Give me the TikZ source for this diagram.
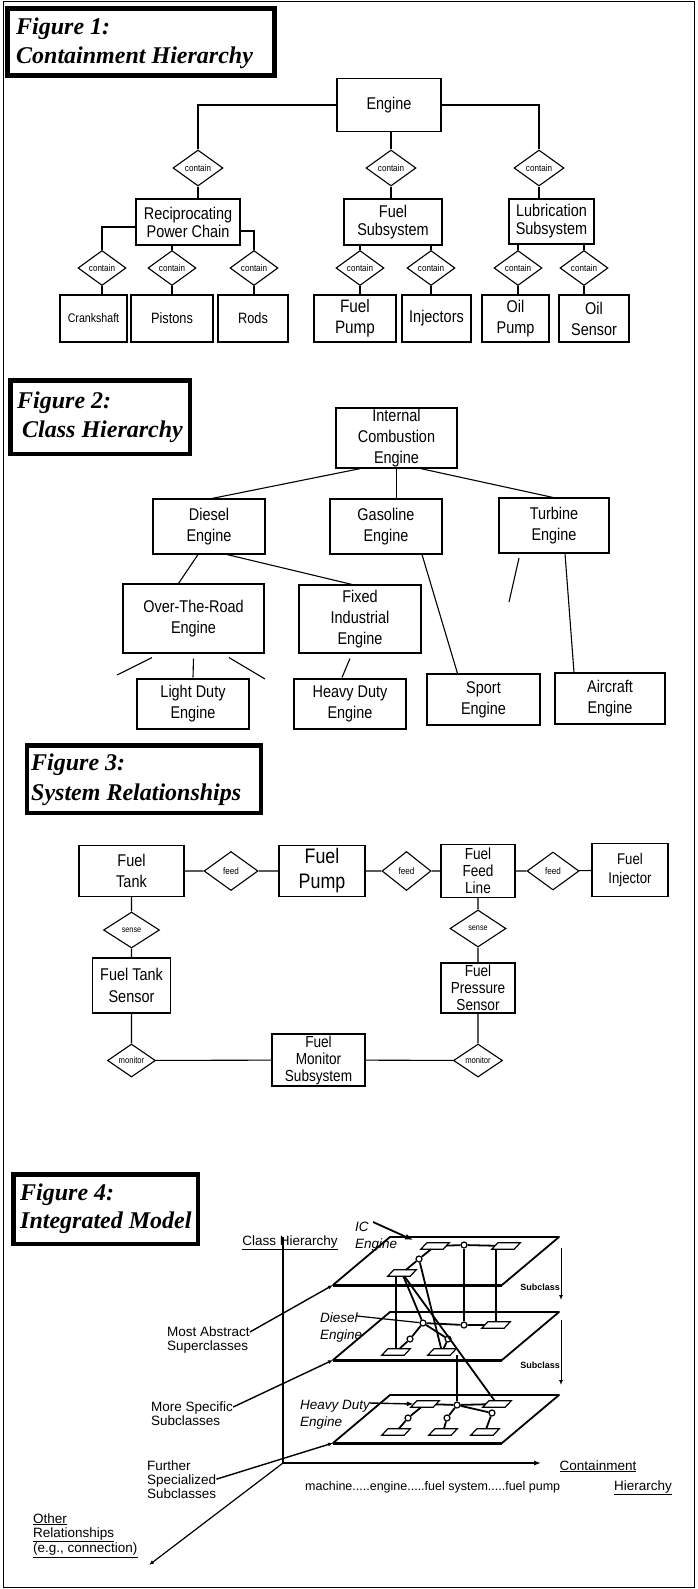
\documentclass[tikz,border=0pt]{standalone}
\usepackage{fontspec}
\setmainfont{Liberation Sans}[FakeStretch=0.85]
\newfontfamily\plainsans{Liberation Sans}
\newfontfamily\titlefont{Liberation Serif}
\usetikzlibrary{shapes.geometric}
\usetikzlibrary{arrows.meta}
\usetikzlibrary{calc}

\newcommand{\fsz}[2]{\fontsize{#1}{#2}\selectfont}

\begin{document}
\begin{tikzpicture}[x=1pt, y=-1pt, >=Latex,
    box/.style={draw, line width=1.1pt, align=center, inner sep=0pt},
    rel/.style={draw, diamond, line width=1.1pt, inner sep=0pt, minimum width=50pt, minimum height=36pt, font=\fsz{9.5}{10}},
    wire/.style={line width=1.1pt},
    figbox/.style={draw, line width=4.5pt, inner sep=0pt},
    figtext/.style={anchor=base west, inner sep=0pt, font=\titlefont\bfseries\itshape\fsz{24}{28}},
    lbl/.style={inner sep=0pt, align=left, font=\plainsans\fsz{13.5}{14}},
    plane/.style={line width=1.8pt, line join=round},
    link/.style={line width=1.8pt},
    subbox/.style={inner sep=0pt, minimum width=22pt, minimum height=6pt},
    joint/.style={draw, circle, line width=1.2pt, minimum size=6pt, inner sep=0pt},
]

\useasboundingbox (0,0) rectangle (697,1589);
\draw[line width=1pt] (3,2) rectangle (694,1587);

% Figure 1
\node[figbox, minimum width=267pt, minimum height=67pt] (fig1) at (141,42) {};
\node[figtext] (fig1a) at (16,35) {Figure 1:};
\node[figtext] (fig1b) at (16,64) {Containment Hierarchy};

\node[box, minimum width=104pt, minimum height=53pt, font=\fsz{17}{18}] (engine) at (389,105) {Engine};
\node[rel] (ct1) at (198,168) {contain};
\node[rel] (ct2) at (391,168) {contain};
\node[rel] (ct3) at (539,168) {contain};

\node[box, minimum width=104pt, minimum height=46pt, font=\fsz{17}{18}] (recip) at (188,222) {Reciprocating\\Power Chain};
\node[box, minimum width=98pt, minimum height=46pt, font=\fsz{17}{18}] (fuelsub) at (393,222) {Fuel\\Subsystem};
\node[box, minimum width=85pt, minimum height=45pt, font=\fsz{17}{18}] (lubsub) at (551.5,221.5) {Lubrication\\Subsystem};

\foreach \n/\x in {ct4/102, ct5/172, ct6/254, ct7/360, ct8/431, ct9/518, ct10/584}
  \node[rel, minimum width=48pt, minimum height=35pt] (\n) at (\x,268) {contain};

\node[box, minimum width=67pt, minimum height=47pt, font=\fsz{12.5}{14}] (crank) at (93.5,318.5) {Crankshaft};
\node[box, minimum width=82pt, minimum height=47pt, font=\fsz{15}{18}] (pistons) at (172,318.5) {Pistons};
\node[box, minimum width=70pt, minimum height=47pt, font=\fsz{15}{18}] (rods) at (253,318.5) {Rods};
\node[box, minimum width=82pt, minimum height=47pt, font=\fsz{18}{21}] (fpump) at (355,318.5) {Fuel\\Pump};
\node[box, minimum width=69pt, minimum height=47pt, font=\fsz{17}{21}] (injectors) at (436.5,318.5) {Injectors};
\node[box, minimum width=67pt, minimum height=47pt, font=\fsz{17}{21}] (opump) at (515.5,318.5) {Oil\\Pump};
\node[box, minimum width=70pt, minimum height=47pt, font=\fsz{17}{21}] (osensor) at (594,318.5) {Oil\\Sensor};

\draw[wire] (engine.west) -| (ct1.north);
\draw[wire] (engine.east) -| (ct3.north);
\draw[wire] (ct2.north) -- (ct2.north |- engine.south);
\draw[wire] (ct1.south) -- (ct1.south |- recip.north);
\draw[wire] (ct2.south) -- (ct2.south |- fuelsub.north);
\draw[wire] (ct3.south) -- (ct3.south |- lubsub.north);
\draw[wire] ($(recip.west)+(0,5)$) -| (ct4.north);
\draw[wire] ($(recip.east)+(0,9)$) -| (ct6.north);
\draw[wire] (ct5.north) -- (ct5.north |- recip.south);
\draw[wire] (ct7.north) -- (ct7.north |- fuelsub.south);
\draw[wire] (ct8.north) -- (ct8.north |- fuelsub.south);
\draw[wire] (ct9.north) -- (ct9.north |- lubsub.south);
\draw[wire] (ct10.north) -- (ct10.north |- lubsub.south);
\foreach \d/\b in {ct4/crank, ct5/pistons, ct6/rods, ct7/fpump, ct8/injectors, ct9/opump, ct10/osensor}
  \draw[wire] (\d.south) -- (\d.south |- \b.north);

% Figure 2
\node[figbox, minimum width=179.5pt, minimum height=73.5pt] (fig2) at (100,417) {};
\node[figtext] (fig2a) at (17,408) {Figure 2:};
\node[figtext] (fig2b) at (22,437) {Class Hierarchy};

\begin{scope}[every node/.append style={font=\fsz{17}{21}}]
\node[box, minimum width=121pt, minimum height=60pt] (ice) at (396.5,438) {Internal\\Combustion\\Engine};
\node[box, minimum width=112pt, minimum height=55pt] (diesel) at (209,526.5) {Diesel\\Engine};
\node[box, minimum width=112pt, minimum height=55pt] (gasoline) at (386,526.5) {Gasoline\\Engine};
\node[box, minimum width=110pt, minimum height=55pt] (turbine) at (554,525.5) {Turbine\\Engine};
\node[box, minimum width=141pt, minimum height=69pt] (otr) at (193.5,618.5) {Over-The-Road\\Engine};
\node[box, minimum width=122pt, minimum height=68pt] (fixed) at (360,619) {Fixed\\Industrial\\Engine};
\node[box, minimum width=112pt, minimum height=50pt] (light) at (193,704) {Light Duty\\Engine};
\node[box, minimum width=112pt, minimum height=50pt] (heavy) at (350,704) {Heavy Duty\\Engine};
\node[box, minimum width=113pt, minimum height=51pt] (sport) at (483.5,699.5) {Sport\\Engine};
\node[box, minimum width=110pt, minimum height=51pt] (aircraft) at (610,698.5) {Aircraft\\Engine};
\end{scope}

\coordinate (loose1) at (519,558);
\coordinate (loose2) at (509,602);
\coordinate (loose3) at (117,675);
\coordinate (loose4) at (265,679);

\draw[wire] ($(ice.south)+(-36,0)$) -- ($(diesel.north)+(3,0)$);
\draw[wire] (ice.south) -- (ice.south |- gasoline.north);
\draw[wire] ($(ice.south)+(24,0)$) -- ($(turbine.north)+(-1,0)$);
\draw[wire] ($(diesel.south)+(-11,0)$) -- ($(otr.north)+(-15,0)$);
\draw[wire] ($(diesel.south)+(18,0)$) -- ($(fixed.north)+(-8,0)$);
\draw[wire] ($(gasoline.south)+(36,0)$) -- ($(sport.north)+(-26,0)$);
\draw[wire] ($(turbine.south)+(11,0)$) -- ($(aircraft.north)+(-36,0)$);
\draw[wire] (loose1) -- (loose2);
\draw[wire] ($(otr.south)+(-41.5,4)$) -- (loose3);
\draw[wire] ($(otr.south)+(0,5)$) -- ($(light.north)+(0,-1)$);
\draw[wire] ($(otr.south)+(35.5,4)$) -- (loose4);
\draw[wire] ($(fixed.south)+(-10,5)$) -- ($(heavy.north)+(-8,-1)$);

% Figure 3
\node[figbox, minimum width=234pt, minimum height=67.5pt] (fig3) at (143.75,779) {};
\node[figtext] (fig3a) at (31,770) {Figure 3:};
\node[figtext] (fig3b) at (31,800) {System Relationships};

\node[box, minimum width=105pt, minimum height=51pt, font=\fsz{17}{21.5}] (tank) at (131.5,871) {Fuel\\Tank};
\node[rel, minimum width=54pt, minimum height=39pt] (fd1) at (231,871) {feed};
\node[box, minimum width=86pt, minimum height=51pt, font=\fsz{21}{25}] (pump) at (322,871) {Fuel\\Pump};
\node[rel, minimum width=49pt, minimum height=39pt] (fd2) at (406.5,871) {feed};
\node[box, minimum width=74pt, minimum height=53pt, font=\fsz{16}{17}] (feedline) at (478,871) {Fuel\\Feed\\Line};
\node[rel, minimum width=52pt, minimum height=38pt] (fd3) at (553,871) {feed};
\node[box, minimum width=76pt, minimum height=53pt, font=\fsz{15.5}{19}] (injector) at (630,870) {Fuel\\Injector};

\node[rel, minimum width=56pt, minimum height=36pt, font=\fsz{8.5}{9}] (sn1) at (131.5,930) {sense};
\node[box, minimum width=78pt, minimum height=55pt, font=\fsz{17}{22}] (tanksensor) at (131.5,985.5) {Fuel Tank\\Sensor};
\node[rel, minimum width=56pt, minimum height=37pt, font=\fsz{8.5}{9}] (sn2) at (478,928.5) {sense};
\node[box, minimum width=74pt, minimum height=50pt, font=\fsz{16}{17}] (pressure) at (478,988) {Fuel\\Pressure\\Sensor};

\node[rel, minimum width=48pt, minimum height=33pt, font=\fsz{9}{10}] (mn1) at (131.5,1060.5) {monitor};
\node[box, minimum width=93pt, minimum height=52pt, font=\fsz{16}{17}] (monitor) at (318.5,1060) {Fuel\\Monitor\\Subsystem};
\node[rel, minimum width=49pt, minimum height=33pt, font=\fsz{9}{10}] (mn2) at (478,1060.5) {monitor};

\draw[wire] (tank) -- (fd1) -- (pump) -- (fd2) -- (feedline) -- (fd3) -- (injector);
\draw[wire] (tank) -- (sn1) -- (tanksensor) -- (mn1) -- (monitor) -- (mn2) -- (pressure) -- (sn2) -- (feedline);

% Figure 4
\node[figbox, minimum width=184.5pt, minimum height=69.5pt] (fig4) at (105.5,1209) {};
\node[figtext] (fig4a) at (20,1200) {Figure 4:};
\node[figtext] (fig4b) at (20,1228) {Integrated Model};

\coordinate (ax0) at (283,1463);
\coordinate (axv) at (283,1237);
\coordinate (axh) at (541,1463);
\coordinate (axd) at (149,1565);
\draw[line width=1.2pt] (axv) -- (ax0);
\draw[line width=1.2pt, -{Latex[length=7pt,width=5pt]}] (ax0) -- (axh);
\draw[line width=1.2pt, -{Latex[length=5pt,width=4pt]}] (ax0) -- (axd);

\def\slant{57}
\foreach \n/\y in {1/1237, 2/1312, 3/1395} {
  \coordinate (p\n tl) at (390,\y);
  \coordinate (p\n tr) at (559,\y);
  \coordinate (p\n br) at (559-\slant,\y+48);
  \coordinate (p\n bl) at (390-\slant,\y+48);
  \draw[plane] (p\n bl) -- (p\n br) -- (p\n tr) -- (p\n tl) -- cycle;
  \draw[line width=3pt] (p\n bl) -- (p\n br);
  \draw[line width=2.6pt] (p\n tl) -- (p\n tr);
}

\foreach \n/\x/\y in {ta/435/1246, tb/506/1246, td/402/1273, mb/496/1325, ma/396/1352, me/442/1352, ba/425/1404, bb/497/1404, bd/396/1432, be/443/1432, bf/485/1432} {
  \node[subbox] (\n) at (\x,\y) {};
  \draw[line width=1.2pt] ($(\n.south west)+(-3,0)$) -- ($(\n.south east)+(-3,0)$)
    -- ($(\n.north east)+(3,0)$) -- ($(\n.north west)+(3,0)$) -- cycle;
}
\foreach \n/\x/\y in {tc1/464/1245, tc2/419/1259, mc1/464/1325, mc2/423/1323, mc3/410/1339, md/448/1339, bc1/457/1405, bc2/408/1418, bc3/447/1418, bc4/492/1413}
  \node[joint] (\n) at (\x,\y) {};

\draw[link] (ta) -- (tc1) -- (tb);
\draw[link] (tc2) -- (ta);
\draw[link] (tc2) -- (td);
\draw[link] (ma.north) -- (ma.north |- td.south);
\draw[link] (mc1) -- (tc1);
\draw[link] (mb.north) -- (mb.north |- tb.south);
\draw[link] (td) -- (mc2);
\draw[link] (tc2) -- (me);
\draw[link] (td) -- (bb);
\draw[link] (mc2) -- (mc1) -- (mb);
\draw[link] (mc2) -- (mc3) -- (ma);
\draw[link] (mc2) -- (md) -- (me);
\draw[link] (bc1.north) -- (bc1.north |- me.south);
\draw[link] (ba) -- (bc1) -- (bb);
\draw[link] (ba) -- (bc2) -- (bd);
\draw[link] (bc1) -- (bc3) -- (be);
\draw[link] (bc1) -- (bc4) -- (bf);

\node[lbl, anchor=base] (classh) at (290,1245) {\underline{Class Hierarchy}};
\node[lbl, anchor=base] (conth) at (598,1470) {\underline{Containment}};
\node[lbl, anchor=base] (hier) at (643,1490) {\underline{Hierarchy}};
\node[lbl, anchor=base west, font=\plainsans\fsz{12.5}{14}] (levels) at (305,1490) {machine.....engine.....fuel system.....fuel pump};

\node[lbl, anchor=north west, font=\plainsans\itshape\fsz{13.5}{17}] (iceng) at (355,1222) {IC\\Engine};
\node[lbl, anchor=north west, font=\plainsans\itshape\fsz{13.5}{17}] (dieng) at (320,1313) {Diesel\\Engine};
\node[lbl, anchor=north west, font=\plainsans\itshape\fsz{13.5}{17}] (hdeng) at (300,1400) {Heavy Duty\\Engine};

\draw[link, -{Latex[length=8pt,width=6pt]}] ($(iceng.north west)+(18,0)$) -- (413,1240);
\draw[line width=1.2pt] ($(dieng.north west)+(37,3)$) -- (mc2);
\draw[line width=1.4pt, -{Latex[length=7pt,width=5pt]}] ($(hdeng.north west)+(70,3)$) -- (ba.west);

\node[lbl, anchor=north west] (abstr) at (167,1327) {Most Abstract\\Superclasses};
\node[lbl, anchor=north west] (specif) at (151,1402) {More Specific\\Subclasses};
\node[lbl, anchor=north west] (further) at (147,1460) {Further\\Specialized\\Subclasses};
\node[lbl, anchor=north west] (otherrel) at (33,1513) {\underline{Other}\\\underline{Relationships}\\\underline{(e.g., connection)}};

\draw[line width=1.4pt, -{Latex[length=5pt,width=4pt]}] ($(abstr.north east)+(0,5)$) -- (p1bl);
\draw[line width=1.4pt, -{Latex[length=5pt,width=4pt]}] ($(specif.north east)+(0,5)$) -- (p2bl);
\draw[line width=1.4pt, -{Latex[length=5pt,width=4pt]}] ($(further.east)+(0,0)$) -- (p3bl);

\coordinate (sc1a) at (561,1248);
\coordinate (sc1b) at (561,1300);
\coordinate (sc2a) at (561,1320);
\coordinate (sc2b) at (561,1385);
\draw[line width=1pt, -{Latex[length=5pt,width=4pt]}] (sc1a) -- (sc1b);
\draw[line width=1pt, -{Latex[length=5pt,width=4pt]}] (sc2a) -- (sc2b);
\node[lbl, anchor=base east, font=\plainsans\bfseries\fsz{9}{10}] (sub1) at (560,1290) {Subclass};
\node[lbl, anchor=base east, font=\plainsans\bfseries\fsz{9}{10}] (sub2) at (560,1368) {Subclass};

\end{tikzpicture}
\end{document}
